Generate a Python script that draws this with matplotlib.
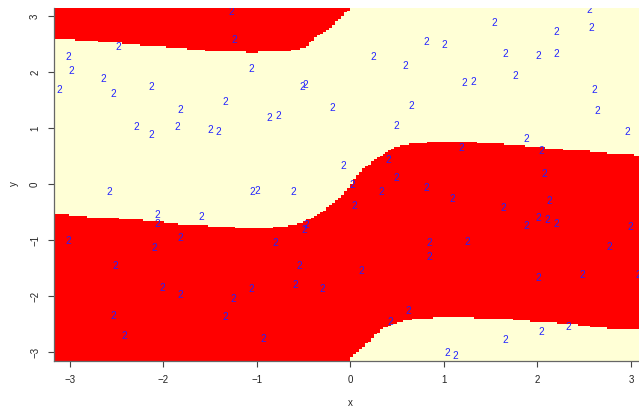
import numpy as np
import matplotlib
matplotlib.use("Agg")
import matplotlib.pyplot as plt

# ---- decision boundary ----
# upper edge of the red band (continuous in x)
boundary_upper_x = [-3.17, -3.03, -2.78, -2.53, -2.29, -2.06, -1.86, -1.63, -1.36, -1.00,
                    -0.73, -0.60, -0.51, -0.43, -0.33, -0.22, -0.11, 0.00, 0.10, 0.21,
                    0.32, 0.42, 0.53, 0.64, 0.74, 1.02, 1.51, 1.87, 2.07, 2.30, 2.53,
                    2.78, 3.04, 3.16]
boundary_upper_y = [-0.55, -0.55, -0.59, -0.61, -0.64, -0.67, -0.71, -0.73, -0.76, -0.80,
                    -0.76, -0.73, -0.67, -0.62, -0.52, -0.40, -0.23, -0.02, 0.22, 0.37,
                    0.50, 0.61, 0.68, 0.71, 0.73, 0.77, 0.73, 0.68, 0.65, 0.61, 0.59,
                    0.55, 0.52, 0.52]
# lower edge of the red band as seen (wraps: top band for x<0, bottom for x>0)
boundary_lower_x = [-3.17, -3.10, -2.90, -2.65, -2.42, -2.19, -1.97, -1.76, -1.52, -1.05,
                    -0.66, -0.55, -0.48, -0.43, -0.33, -0.22, -0.11, 0.00, 0.03, 0.10,
                    0.21, 0.32, 0.42, 0.53, 0.64, 0.74, 1.07, 1.53, 1.76, 1.98, 2.32,
                    2.67, 2.95, 3.16]
boundary_lower_y = [2.59, 2.59, 2.57, 2.54, 2.51, 2.47, 2.45, 2.42, 2.38, 2.35,
                    2.38, 2.42, 2.45, 2.54, 2.66, 2.78, 2.96, 3.14, -3.05, -2.96,
                    -2.79, -2.61, -2.52, -2.46, -2.42, -2.40, -2.37, -2.40, -2.42, -2.46, -2.49,
                    -2.57, -2.59, -2.59]

# ---- points (all labelled "2") ----
pts_x = [-1.28, -1.24, -2.48, -3.02, -2.99, -3.11, -2.64, -2.54, -2.13, -1.82,
         -1.34, -1.06, -0.52, -0.48, -0.87, -0.77, -2.29, -2.13, -1.85, -1.50,
         -1.41, -2.58, -1.05, -1.00, -0.61,
         2.55, 1.54, 2.20, 2.58, 0.81, 1.00, 0.24, 0.59, 1.66, 2.01,
         2.20, 1.22, 1.31, 1.76, 2.61, 2.64, -0.20, 0.65, 0.49, 2.96,
         1.88, 1.19, 2.04, -0.08, 0.40, 0.02, 0.49, 0.33, 0.81, 2.07,
         1.09, 2.13, 0.04, 1.63,
         2.01, 2.10, 2.20, 1.88, 2.99, 0.84, 1.25, 2.77, 0.84, 0.11,
         -0.30, 2.01, 2.48, 3.08, 0.62, 0.43, 1.66, 2.04, 2.33, 1.03, 1.12,
         -2.07, -2.07, -1.60, -0.47, -0.49, -3.02, -1.82, -2.10, -0.80, -2.52,
         -0.55, -2.01, -1.82, -1.06, -1.25, -0.59, -2.54, -1.34, -2.42, -0.93]
pts_y = [3.08, 2.58, 2.45, 2.27, 2.01, 1.67, 1.87, 1.61, 1.74, 1.33,
         1.46, 2.05, 1.74, 1.76, 1.17, 1.21, 1.01, 0.88, 1.01, 0.96,
         0.92, -0.15, -0.15, -0.12, -0.15,
         3.11, 2.87, 2.71, 2.78, 2.54, 2.49, 2.27, 2.11, 2.33, 2.29,
         2.33, 1.80, 1.83, 1.92, 1.67, 1.30, 1.35, 1.39, 1.04, 0.92,
         0.80, 0.64, 0.59, 0.32, 0.43, -0.02, 0.10, -0.15, -0.07, 0.17,
         -0.27, -0.31, -0.39, -0.42,
         -0.60, -0.65, -0.72, -0.75, -0.77, -1.06, -1.03, -1.13, -1.31, -1.55,
         -1.88, -1.67, -1.63, -1.63, -2.26, -2.47, -2.79, -2.64, -2.55, -3.01, -3.08,
         -0.56, -0.72, -0.59, -0.74, -0.82, -1.01, -0.97, -1.15, -1.06, -1.47,
         -1.47, -1.85, -1.98, -1.88, -2.05, -1.81, -2.35, -2.38, -2.71, -2.76]
pt_label = "2"

x_ticks = [-3, -2, -1, 0, 1, 2, 3]
y_ticks = [-3, -2, -1, 0, 1, 2, 3]

plt.rcParams['font.family'] = ['Liberation Sans', 'DejaVu Sans']

W, H = 639, 411
fig = plt.figure(figsize=(W / 100, H / 100), dpi=100)
ax = fig.add_axes([54 / W, (H - 361) / H, 585 / W, 353 / H])

# classification grid
x0, x1, y0, y1 = -3.171, 3.16, -3.161, 3.16
nx, ny = 200, 200
gx = x0 + (np.arange(nx) + 0.5) * (x1 - x0) / nx
gy = y0 + (np.arange(ny) + 0.5) * (y1 - y0) / ny
A = np.interp(gx, boundary_upper_x, boundary_upper_y)
lb = np.array(boundary_lower_y)
Bc = np.interp(gx, boundary_lower_x, np.where(lb > 0, lb - 2 * np.pi, lb))
XX, YY = np.meshgrid(gx, gy)
d = np.mod(YY - Bc[None, :], 2 * np.pi)
red = d < (A - Bc)[None, :]
rgb = np.zeros((ny, nx, 3))
rgb[red] = [1.0, 0.0, 0.0]
rgb[~red] = [1.0, 1.0, 0.84]
ax.imshow(rgb, origin='lower', extent=[x0, x1, y0, y1],
          interpolation='nearest', aspect='auto', zorder=1)

for px, py in zip(pts_x, pts_y):
    ax.text(px, py, pt_label, color='#2222ff', fontsize=7.2, ha='center', va='center',
            zorder=3, clip_on=True)

ax.set_xlim(-3.171, 3.086)
ax.set_ylim(-3.161, 3.143)
ax.set_xticks(x_ticks)
ax.set_yticks(y_ticks)
ax.set_xticklabels([str(v).replace('-', '\u2212') for v in x_ticks])
ax.set_yticklabels([str(v).replace('-', '\u2212') for v in y_ticks], rotation=90, va='center')
for s in ['top', 'right']:
    ax.spines[s].set_visible(False)
for s in ['left', 'bottom']:
    ax.spines[s].set_color('#666666')
    ax.spines[s].set_linewidth(0.9)
    ax.spines[s].set_zorder(4)
ax.tick_params(direction='out', length=4, width=0.8, color='#444444',
               labelsize=7, labelcolor='#222222', pad=6)
fig.text(350.5 / W, 1 - 403 / H, 'x', ha='center', va='center', fontsize=7, color='#222222')
fig.text(14 / W, 1 - 184 / H, 'y', ha='center', va='center', fontsize=7, color='#222222', rotation=90)

fig.savefig('out.png', dpi=100)
